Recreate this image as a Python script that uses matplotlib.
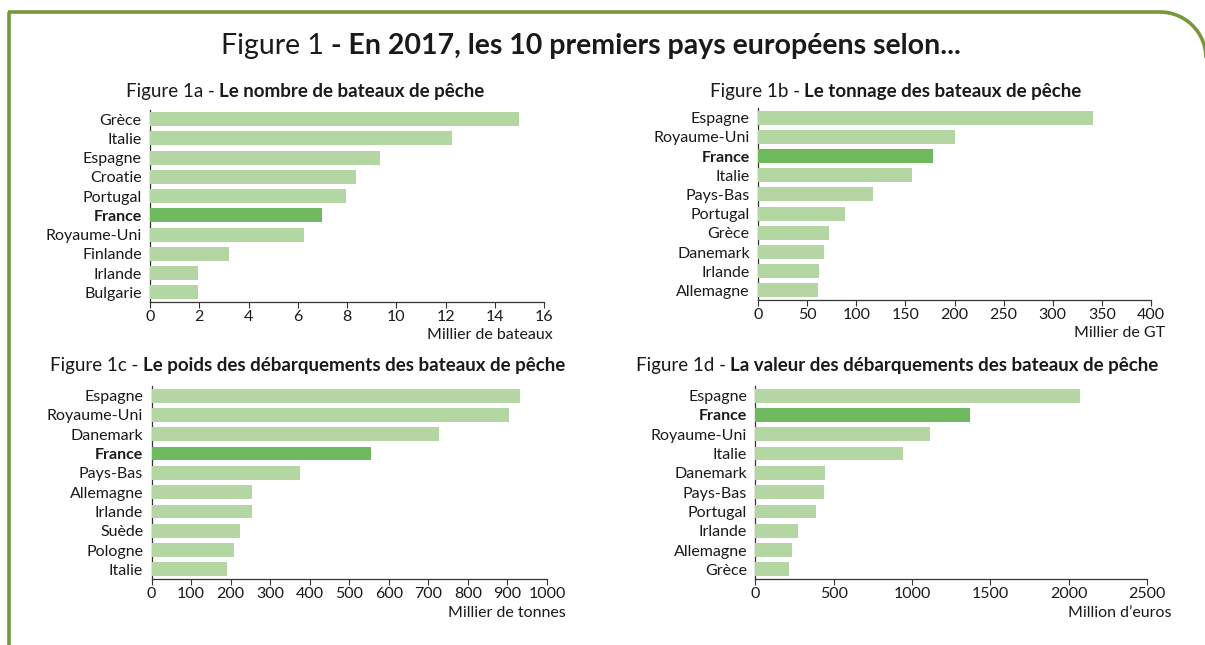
import matplotlib
matplotlib.use("Agg")
import matplotlib.pyplot as plt
from matplotlib.patches import Arc
from matplotlib.lines import Line2D

plt.rcParams['font.family'] = ['Lato', 'DejaVu Sans']

W, H = 1205, 645
DPI = 100

LIGHT = "#b3d6a3"
DARK = "#6fba5f"
FRAME = "#77983a"
TXT = "#1a1a1a"

# ---- data ----
cats_a = ["Grèce", "Italie", "Espagne", "Croatie", "Portugal", "France",
          "Royaume-Uni", "Finlande", "Irlande", "Bulgarie"]
vals_a = [15.0, 12.27, 9.35, 8.37, 7.97, 6.99, 6.26, 3.22, 1.96, 1.93]
ticks_a = [0, 2, 4, 6, 8, 10, 12, 14, 16]

cats_b = ["Espagne", "Royaume-Uni", "France", "Italie", "Pays-Bas", "Portugal",
          "Grèce", "Danemark", "Irlande", "Allemagne"]
vals_b = [341, 201, 178, 157, 117, 89, 72, 67, 62, 61]
ticks_b = [0, 50, 100, 150, 200, 250, 300, 350, 400]

cats_c = ["Espagne", "Royaume-Uni", "Danemark", "France", "Pays-Bas", "Allemagne",
          "Irlande", "Suède", "Pologne", "Italie"]
vals_c = [932, 904, 726, 556, 375, 254, 254, 224, 208, 192]
ticks_c = [0, 100, 200, 300, 400, 500, 600, 700, 800, 900, 1000]

cats_d = ["Espagne", "France", "Royaume-Uni", "Italie", "Danemark", "Pays-Bas",
          "Portugal", "Irlande", "Allemagne", "Grèce"]
vals_d = [2071, 1371, 1116, 945, 444, 437, 385, 272, 233, 213]
ticks_d = [0, 500, 1000, 1500, 2000, 2500]

panels = [
    dict(cats=cats_a, vals=vals_a, ticks=ticks_a, unit="Millier de bateaux",
         num="Figure 1a - ", title="Le nombre de bateaux de pêche",
         box=(150, 109.5, 544, 302), tcx=305, tcy=92, ux=553, uy=335),
    dict(cats=cats_b, vals=vals_b, ticks=ticks_b, unit="Millier de GT",
         num="Figure 1b - ", title="Le tonnage des bateaux de pêche",
         box=(758, 108, 1151, 300), tcx=895.5, tcy=92, ux=1165, uy=333),
    dict(cats=cats_c, vals=vals_c, ticks=ticks_c, unit="Millier de tonnes",
         num="Figure 1c - ", title="Le poids des débarquements des bateaux de pêche",
         box=(151.5, 386, 547, 579), tcx=308, tcy=366, ux=566, uy=613),
    dict(cats=cats_d, vals=vals_d, ticks=ticks_d, unit="Million d\u2019euros",
         num="Figure 1d - ", title="La valeur des débarquements des bateaux de pêche",
         box=(755.4, 386, 1147, 579), tcx=897, tcy=366, ux=1171, uy=613),
]

fig = plt.figure(figsize=(W / DPI, H / DPI), dpi=DPI)
fig.patch.set_facecolor("white")
renderer = fig.canvas.get_renderer()

fx = lambda x: x / W
fy = lambda y: 1 - y / H

# frame
fig.add_artist(Line2D([fx(9), fx(9)], [fy(645), fy(12)], color=FRAME, lw=2.6,
                      transform=fig.transFigure, solid_capstyle="butt"))
fig.add_artist(Line2D([fx(8), fx(1160)], [fy(12), fy(12)], color=FRAME, lw=2.6,
                      transform=fig.transFigure, solid_capstyle="butt"))
arc_ax = fig.add_axes([0, 0, 1, 1], zorder=-1)
arc_ax.set_xlim(0, W)
arc_ax.set_ylim(H, 0)
arc_ax.axis("off")
arc_ax.add_patch(Arc((1160, 58), 92, 92, theta1=270, theta2=360,
                     color=FRAME, lw=2.6))


def two_part(cx, cy, left, right, size):
    """Centered title: normal part then bold part."""
    t1 = fig.text(0, fy(cy), left, ha="left", va="center", fontsize=size, color=TXT)
    t2 = fig.text(0, fy(cy), right, ha="left", va="center", fontsize=size,
                  fontweight="bold", color=TXT)
    w1 = t1.get_window_extent(renderer).width
    w2 = t2.get_window_extent(renderer).width
    start = cx - (w1 + w2) / 2
    t1.set_x(fx(start))
    t2.set_x(fx(start + w1))


# main title
two_part(591, 46, "Figure 1 ", "- En 2017, les 10 premiers pays européens selon...", 20.5)

for p in panels:
    x0, y0, x1, y1 = p["box"]
    ax = fig.add_axes([fx(x0), fy(y1), (x1 - x0) / W, (y1 - y0) / H])
    n = len(p["cats"])
    ys = list(range(n))
    colors = [DARK if c == "France" else LIGHT for c in p["cats"]]
    ax.barh(ys, p["vals"], height=0.72, color=colors, zorder=3)
    ax.set_ylim(n - 0.5, -0.5)
    ax.set_xlim(p["ticks"][0], p["ticks"][-1])
    ax.set_xticks(p["ticks"])
    ax.set_xticklabels([str(t) for t in p["ticks"]], fontsize=11.5, color=TXT)
    ax.set_yticks(ys)
    ax.set_yticklabels(p["cats"], fontsize=11.5, color=TXT)
    for lbl in ax.get_yticklabels():
        if lbl.get_text() == "France":
            lbl.set_fontweight("bold")
    ax.tick_params(axis="y", length=0, pad=6)
    ax.tick_params(axis="x", length=4, width=0.8, color="#333333", pad=2,
                   direction="out")
    for s in ("top", "right"):
        ax.spines[s].set_visible(False)
    for s in ("left", "bottom"):
        ax.spines[s].set_color("#333333")
        ax.spines[s].set_linewidth(0.9)
    ax.set_facecolor("none")
    fig.text(fx(p["ux"]), fy(p["uy"]), p["unit"], ha="right", va="center",
             fontsize=11.5, color=TXT)
    two_part(p["tcx"], p["tcy"], p["num"], p["title"], 13.5)

fig.savefig("out.png", dpi=DPI)
